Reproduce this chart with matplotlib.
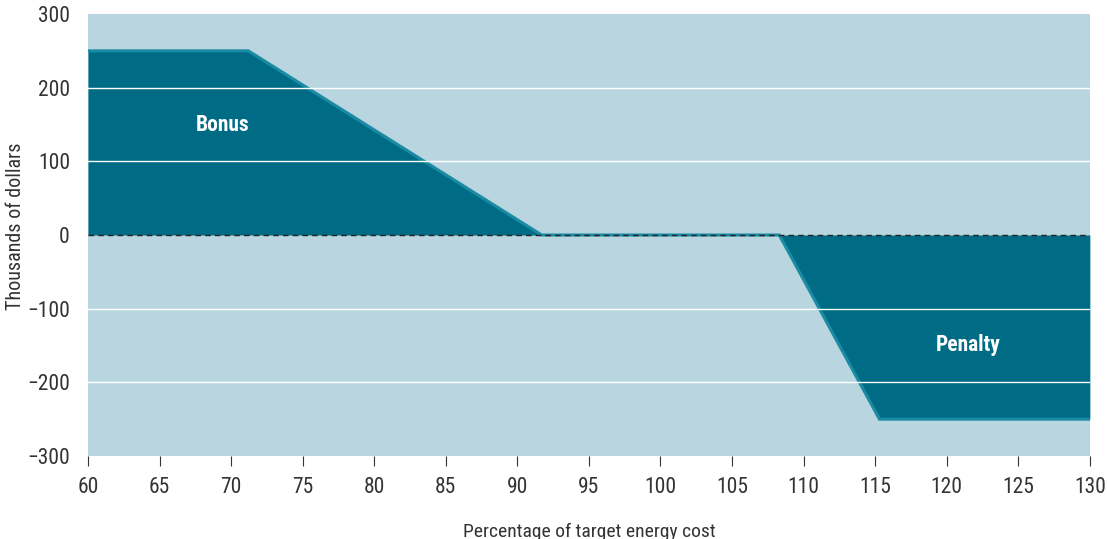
import numpy as np
import matplotlib.pyplot as plt

# Data (percentage of target cost -> thousands of dollars)
bonus_x = [60, 71.2, 91.7]
bonus_y = [250, 250, 0]
flat_x = [91.7, 108.3]
flat_y = [0, 0]
penalty_x = [108.3, 115.3, 130]
penalty_y = [0, -250, -250]
x_ticks = list(range(60, 131, 5))
y_ticks = [-300, -200, -100, 0, 100, 200, 300]
y_tick_labels = ['\u2212300', '\u2212200', '\u2212100', '0', '100', '200', '300']

bg = '#b8d5e0'
fill = '#006b85'
edge = '#1b8ba3'

plt.rcParams['font.family'] = ['Roboto Condensed', 'Liberation Sans Narrow', 'Roboto', 'DejaVu Sans']

fig = plt.figure(figsize=(11.07, 5.39), dpi=100)
ax = fig.add_axes([0.0795, 0.154, 0.905, 0.820])
ax.set_facecolor(bg)

ax.fill_between(bonus_x, bonus_y, 0, color=fill, lw=0, zorder=2)
ax.fill_between(penalty_x, penalty_y, 0, color=fill, lw=0, zorder=2)

# outline of the payout curve
line_x = bonus_x + flat_x[1:] + penalty_x[1:]
line_y = bonus_y + flat_y[1:] + penalty_y[1:]
ax.plot(line_x, line_y, color=edge, lw=2.2, zorder=3, solid_joinstyle='miter')

# grid on top of the fills
for y in [-200, -100, 100, 200]:
    ax.axhline(y, color='white', lw=1, zorder=4)
ax.axhline(0, color='#222222', lw=1, ls=(0, (4, 3)), zorder=5)

ax.text(69.4, 150, 'Bonus', color='white', fontsize=15.5, fontweight='bold',
        ha='center', va='center', zorder=6)
ax.text(121.5, -150, 'Penalty', color='white', fontsize=15.5, fontweight='bold',
        ha='center', va='center', zorder=6)

ax.set_xlim(60, 130)
ax.set_ylim(-300, 300)
ax.set_xticks(x_ticks)
ax.set_yticks(y_ticks)
ax.set_yticklabels(y_tick_labels)
ax.tick_params(axis='x', length=7, direction='out', pad=8, color='#333333',
               labelsize=15.5, labelcolor='#333333')
ax.tick_params(axis='y', length=0, pad=13, labelsize=15.5, labelcolor='#333333')
for s in ax.spines.values():
    s.set_visible(False)

ax.set_xlabel('Percentage of target energy cost', fontsize=14, color='#333333', labelpad=18)
ax.set_ylabel('Thousands of dollars', fontsize=14.5, color='#333333')
ax.yaxis.set_label_coords(-0.063, 0.52)

fig.savefig('out.png', dpi=100)
